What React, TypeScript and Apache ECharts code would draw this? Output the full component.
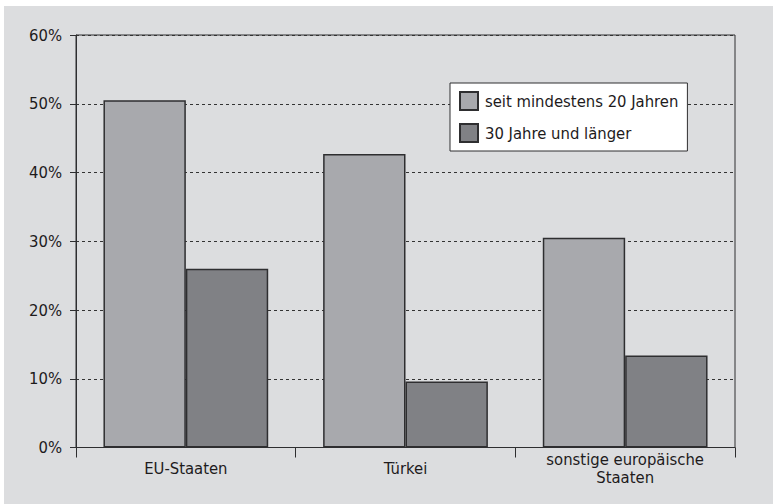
import React, { useEffect, useRef } from "react";
import * as echarts from "echarts";

// Anteil nach Herkunftsregion, in Prozent
const categories = ["EU-Staaten", "Türkei", "sonstige europäische\nStaaten"];
const seriesNames = ["seit mindestens 20 Jahren", "30 Jahre und länger"];
const atLeast20Years = [50.5, 42.7, 30.5];
const thirtyYearsPlus = [26.0, 9.6, 13.4];
const yTicks = { min: 0, max: 60, interval: 10 };

const FONT = "'Liberation Sans Narrow', 'DejaVu Sans Condensed', 'Liberation Sans', sans-serif";
const TEXT = "#1e1b1c";
const LINE = "#2e2e30";

export default function App() {
  const ref = useRef<HTMLDivElement>(null);

  useEffect(() => {
    if (!ref.current) return;
    const chart = echarts.init(ref.current, undefined, { renderer: "svg" });
    chart.setOption({
      animation: false,
      backgroundColor: "#dcdddf",
      textStyle: { fontFamily: FONT, color: TEXT },
      grid: {
        left: 72,
        right: 38,
        top: 29,
        bottom: 56.5,
        show: true,
        borderColor: LINE,
        borderWidth: 1,
        backgroundColor: "transparent",
      },
      legend: {
        orient: "vertical",
        left: 446,
        top: 77,
        itemWidth: 18,
        itemHeight: 18,
        itemGap: 12,
        padding: [8, 9, 8, 9],
        backgroundColor: "#ffffff",
        borderColor: LINE,
        borderWidth: 1,
        borderRadius: 0,
        icon: "rect",
        textStyle: { fontFamily: FONT, fontSize: 16.5, color: TEXT, padding: [0, 0, 0, 2] },
        data: seriesNames,
      },
      xAxis: {
        type: "category",
        data: categories,
        axisLine: { lineStyle: { color: LINE, width: 1 } },
        axisTick: { show: true, length: 10, interval: 0, lineStyle: { color: LINE } },
        axisLabel: {
          interval: 0,
          margin: 21,
          verticalAlign: "middle",
          fontFamily: FONT,
          fontSize: 16.5,
          lineHeight: 18,
          color: TEXT,
        },
      },
      yAxis: {
        type: "value",
        min: yTicks.min,
        max: yTicks.max,
        interval: yTicks.interval,
        axisLine: { show: true, lineStyle: { color: LINE, width: 1 } },
        axisTick: { show: true, length: 6, lineStyle: { color: LINE } },
        axisLabel: {
          margin: 14,
          fontFamily: FONT,
          fontSize: 16.5,
          color: TEXT,
          formatter: (v: number) => `${v}%`,
        },
        splitLine: { show: true, lineStyle: { color: "#333", width: 1, type: [3, 3] } },
      },
      series: [
        {
          name: seriesNames[0],
          type: "bar",
          data: atLeast20Years,
          barGap: "0%",
          barCategoryGap: "25%",
          itemStyle: { color: "#a8a9ad", borderColor: LINE, borderWidth: 1.5 },
        },
        {
          name: seriesNames[1],
          type: "bar",
          data: thirtyYearsPlus,
          barGap: "0%",
          barCategoryGap: "25%",
          itemStyle: { color: "#808185", borderColor: LINE, borderWidth: 1.5 },
        },
      ],
    });
    return () => chart.dispose();
  }, []);

  return (
    <div
      style={{
        position: "fixed",
        left: 0,
        top: 0,
        width: 773,
        height: 504,
        background: "#ffffff",
        overflow: "hidden",
      }}
    >
      <div
        ref={ref}
        style={{ position: "absolute", left: 4, top: 6, width: 769, height: 498 }}
      />
    </div>
  );
}
